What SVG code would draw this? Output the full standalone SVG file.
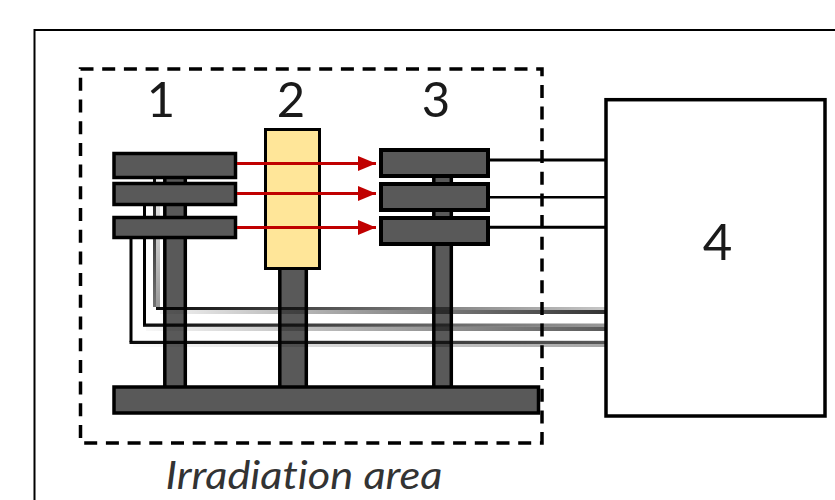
<svg xmlns="http://www.w3.org/2000/svg" width="835" height="500" viewBox="0 0 835 500">
<style>
.bar{fill:#595959;stroke:#000;stroke-width:3.5}
.box3{fill:#595959;stroke:#000;stroke-width:4}
.wire{fill:none;stroke:#000;stroke-width:3}
.ray{stroke:#c00000;stroke-width:3;fill:none;marker-end:url(#ah)}
.lbl{font-family:"Lato","Open Sans",sans-serif;font-size:49px;fill:#1a1a1a;text-anchor:middle}
</style>
<defs>
<marker id="ah" markerUnits="userSpaceOnUse" markerWidth="19" markerHeight="18" refX="18" refY="9" orient="auto"><path d="M0 1.500L18 9L0 16.500Z" fill="#c00000"/></marker>
<linearGradient id="t1" gradientUnits="userSpaceOnUse" x1="160" x2="606" y1="0" y2="0"><stop offset="0" stop-color="#000" stop-opacity=".95"/><stop offset="1" stop-color="#000" stop-opacity=".22"/></linearGradient>
<linearGradient id="b1" gradientUnits="userSpaceOnUse" x1="160" x2="606" y1="0" y2="0"><stop offset="0" stop-color="#000" stop-opacity=".05"/><stop offset="1" stop-color="#000" stop-opacity=".8"/></linearGradient>
<linearGradient id="t2" gradientUnits="userSpaceOnUse" x1="146" x2="606" y1="0" y2="0"><stop offset="0" stop-color="#000" stop-opacity=".95"/><stop offset="1" stop-color="#000" stop-opacity=".4"/></linearGradient>
<linearGradient id="b2" gradientUnits="userSpaceOnUse" x1="146" x2="606" y1="0" y2="0"><stop offset="0" stop-color="#000" stop-opacity=".03"/><stop offset="1" stop-color="#000" stop-opacity=".65"/></linearGradient>
<linearGradient id="t3" gradientUnits="userSpaceOnUse" x1="133" x2="606" y1="0" y2="0"><stop offset="0" stop-color="#000" stop-opacity=".95"/><stop offset="1" stop-color="#000" stop-opacity=".65"/></linearGradient>
<linearGradient id="b3" gradientUnits="userSpaceOnUse" x1="133" x2="606" y1="0" y2="0"><stop offset="0" stop-color="#000" stop-opacity=".02"/><stop offset="1" stop-color="#000" stop-opacity=".35"/></linearGradient>
<linearGradient id="v1" x1="0" x2="0" y1="0" y2="1"><stop offset="0" stop-color="#000" stop-opacity=".05"/><stop offset="1" stop-color="#000" stop-opacity=".4"/></linearGradient>
<linearGradient id="v2" x1="0" x2="0" y1="0" y2="1"><stop offset="0" stop-color="#000" stop-opacity=".95"/><stop offset="1" stop-color="#000" stop-opacity=".55"/></linearGradient>
</defs>
<rect width="835" height="500" fill="#fff"/>
<path d="M34.500 500V30H835" fill="none" stroke="#000" stroke-width="2"/>
<rect id="area" x="80.500" y="69" width="461.500" height="374" fill="none" stroke="#000" stroke-width="3.500" stroke-dasharray="13 8.700"/>
<g id="stems">
<rect class="bar" x="164.800" y="170" width="20.500" height="220"/>
<rect class="bar" x="279.800" y="265" width="26.500" height="125"/>
<rect class="bar" x="433.800" y="170" width="17.500" height="220"/>
</g>
<g id="connectors">
<rect x="153" y="179" width="3" height="128" fill="url(#v2)"/>
<rect x="156" y="179" width="4" height="128" fill="url(#v1)"/>
<path class="wire" d="M144.500 206V325M131 239V342.300"/>
<rect x="156" y="307" width="450" height="3" fill="url(#t1)"/>
<rect x="160" y="310" width="446" height="4" fill="url(#b1)"/>
<rect x="143" y="323.500" width="463" height="3.300" fill="url(#t2)"/>
<rect x="146" y="326.800" width="460" height="4.200" fill="url(#b2)"/>
<rect x="129.500" y="340.800" width="476.500" height="3.200" fill="url(#t3)"/>
<rect x="133" y="344" width="473" height="3" fill="url(#b3)"/>
<path class="wire" d="M490 160H606M490 227.300H606"/>
<path d="M490 197.300H606" fill="none" stroke="#000" stroke-width="2.500"/>
</g>
<g id="node-1">
<rect class="bar" x="114" y="153.500" width="121.500" height="24"/>
<rect class="bar" x="114" y="183.500" width="121.500" height="21"/>
<rect class="bar" x="114" y="217.500" width="121.500" height="20"/>
<text class="lbl" x="161" y="117">1</text>
</g>
<g id="node-2">
<rect x="265.500" y="129.500" width="54" height="139" fill="#ffe699" stroke="#000" stroke-width="3"/>
<text class="lbl" x="291" y="117">2</text>
</g>
<g id="node-3">
<rect class="box3" x="381" y="150" width="107" height="26"/>
<rect class="box3" x="381" y="184" width="107" height="26"/>
<rect class="box3" x="381" y="218" width="107" height="26"/>
<text class="lbl" x="436" y="117">3</text>
</g>
<g id="base"><rect class="bar" x="114" y="387" width="424.500" height="26"/></g>
<g id="rays">
<path class="ray" d="M237 163.500H376"/>
<path class="ray" d="M237 193.500H376"/>
<path class="ray" d="M237 227.500H376"/>
</g>
<g id="node-4">
<rect x="606" y="99.700" width="219" height="316.300" fill="#fff" stroke="#000" stroke-width="3.500"/>
<text class="lbl" x="717.500" y="260" style="font-size:51px">4</text>
</g>
<text id="caption" x="304" y="489" font-family="Lato,Open Sans,sans-serif" font-size="38" font-style="italic" fill="#333" text-anchor="middle" textLength="277" lengthAdjust="spacingAndGlyphs" style="font-variant-ligatures:none">Irradiation area</text>
</svg>
